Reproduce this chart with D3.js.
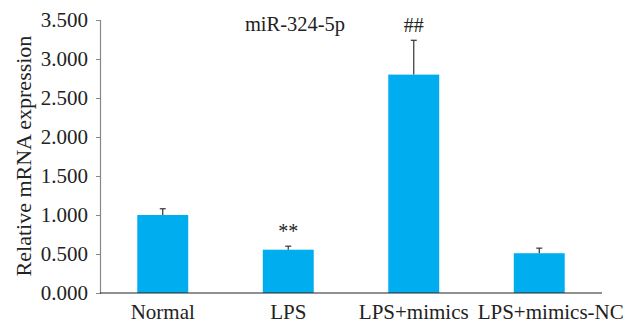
<!DOCTYPE html>
<html>
<head>
<meta charset="utf-8">
<script src="https://cdn.jsdelivr.net/npm/d3@7"></script>
<style>
  body { margin: 0; background: #fff; }
  text { font-family: "Liberation Serif", "Times New Roman", serif; fill: #222; }
</style>
</head>
<body>
<svg id="chart" width="638" height="324"></svg>
<script>
let groups = ['Normal', 'LPS', 'LPS+mimics', 'LPS+mimics-NC'];
let means = [1.000, 0.555, 2.800, 0.510];
let errs = [0.080, 0.045, 0.440, 0.065];
let marks = ['', '**', '##', ''];
let yticks = [0, 0.5, 1, 1.5, 2, 2.5, 3, 3.5];

let svg = d3.select('#chart');
let mleft = 100, mright = 602, mtop = 20, mbottom = 293;

let x = d3.scaleBand()
    .domain(groups)
    .range([mleft, mright])
    .paddingInner(0.594)
    .paddingOuter(0.297);

let y = d3.scaleLinear()
    .domain([0, 3.5])
    .range([mbottom, mtop]);

// y axis
let yAxis = svg.append('g')
    .attr('transform', 'translate(' + mleft + ',0)')
    .call(d3.axisLeft(y).tickValues(yticks).tickFormat(d3.format('.3f')).tickSize(4).tickPadding(8));
yAxis.select('.domain').attr('stroke', '#888').attr('stroke-width', 1.2);
yAxis.selectAll('.tick line').attr('stroke', '#888');
yAxis.selectAll('.tick text')
    .attr('font-size', '21px')
    .attr('font-family', '"Liberation Serif", serif')
    .attr('fill', '#222');

// bars
svg.selectAll('.bar')
    .data(groups)
    .enter()
    .append('rect')
    .attr('class', 'bar')
    .attr('x', (d) => x(d))
    .attr('width', x.bandwidth())
    .attr('y', (d, i) => y(means[i]))
    .attr('height', (d, i) => y(0) - y(means[i]))
    .attr('fill', '#00aeef');

// error bars (upper only)
svg.selectAll('.err')
    .data(groups)
    .enter()
    .append('line')
    .attr('x1', (d) => x(d) + x.bandwidth() / 2)
    .attr('x2', (d) => x(d) + x.bandwidth() / 2)
    .attr('y1', (d, i) => y(means[i]))
    .attr('y2', (d, i) => y(means[i] + errs[i]))
    .attr('stroke', '#333')
    .attr('stroke-width', 1.2);

svg.selectAll('.cap')
    .data(groups)
    .enter()
    .append('line')
    .attr('x1', (d) => x(d) + x.bandwidth() / 2 - 3)
    .attr('x2', (d) => x(d) + x.bandwidth() / 2 + 3)
    .attr('y1', (d, i) => y(means[i] + errs[i]))
    .attr('y2', (d, i) => y(means[i] + errs[i]))
    .attr('stroke', '#333')
    .attr('stroke-width', 1.2);

// significance marks
svg.selectAll('.mark')
    .data(groups)
    .enter()
    .append('text')
    .attr('x', (d) => x(d) + x.bandwidth() / 2)
    .attr('y', (d, i) => y(means[i] + errs[i]) - 8)
    .attr('text-anchor', 'middle')
    .attr('font-size', '20px')
    .text((d, i) => marks[i]);

// x axis
svg.append('line')
    .attr('x1', mleft)
    .attr('x2', mright)
    .attr('y1', mbottom)
    .attr('y2', mbottom)
    .attr('stroke', '#222')
    .attr('stroke-width', 1.2);

let xlabs = svg.selectAll('.xlab')
    .data(groups)
    .enter()
    .append('text')
    .attr('class', 'xlab')
    .attr('x', (d) => x(d) + x.bandwidth() / 2)
    .attr('y', 319)
    .attr('text-anchor', 'middle')
    .attr('font-size', '21px')
    .text((d) => d);

// push a label right when it would run into the one before it
let prevEnd = -Infinity;
xlabs.each(function () {
    let t = d3.select(this);
    let w = this.getComputedTextLength();
    let cx = +t.attr('x');
    if (cx - w / 2 < prevEnd + 9) {
        cx = prevEnd + 9 + w / 2;
        t.attr('x', cx);
    }
    prevEnd = cx + w / 2;
});

// title
svg.append('text')
    .attr('x', 295)
    .attr('y', 31)
    .attr('text-anchor', 'middle')
    .attr('font-size', '20.5px')
    .text('miR-324-5p');

// y label
svg.append('text')
    .attr('transform', 'translate(31,156) rotate(-90)')
    .attr('text-anchor', 'middle')
    .attr('font-size', '22px')
    .text('Relative mRNA expression');
</script>
</body>
</html>
